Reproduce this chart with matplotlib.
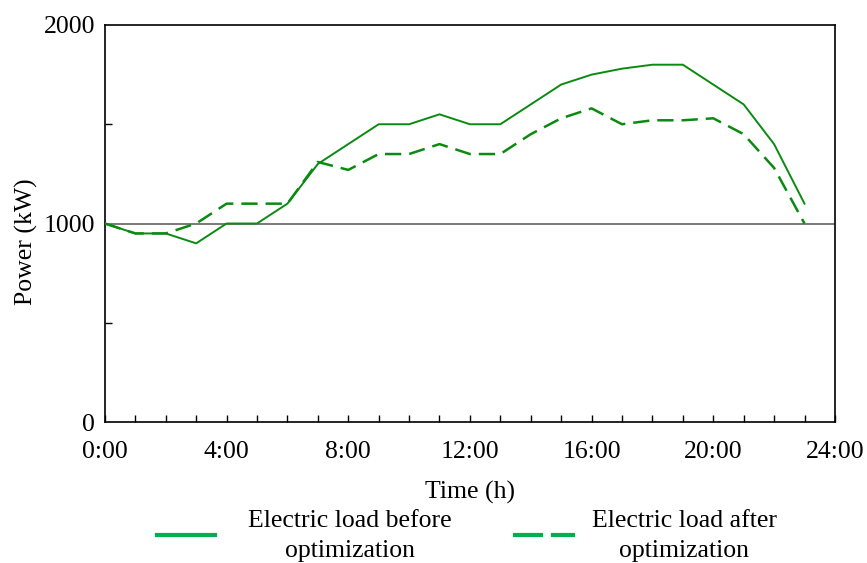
import matplotlib
matplotlib.use("Agg")
import matplotlib.pyplot as plt
from matplotlib.lines import Line2D
from matplotlib.ticker import MultipleLocator

hours = list(range(24))
load_before = [1000, 950, 950, 900, 1000, 1000, 1100, 1300, 1400, 1500, 1500, 1550,
               1500, 1500, 1600, 1700, 1750, 1780, 1800, 1800, 1700, 1600, 1400, 1100]
load_after = [1000, 950, 950, 1000, 1100, 1100, 1100, 1310, 1270, 1350, 1350, 1400,
              1350, 1350, 1450, 1530, 1580, 1500, 1520, 1520, 1530, 1450, 1280, 1000]
xtick_pos = [0, 4, 8, 12, 16, 20, 24]
xtick_labels = ["0:00", "4:00", "8:00", "12:00", "16:00", "20:00", "24:00"]
ytick_pos = [0, 1000, 2000]
labels = ["Electric load before\noptimization", "Electric load after\noptimization"]

plt.rcParams['font.family'] = ['Liberation Serif', 'DejaVu Serif']
fig = plt.figure(figsize=(8.67, 5.63), dpi=100)
ax = fig.add_axes([0.121, 0.2504, 0.842, 0.7052])

fs = 18.5
line_color = '#0b8a12'
ax.axhline(1000, color='#555555', lw=1.1, zorder=1)
ax.plot(hours, load_before, color=line_color, lw=1.4, zorder=3)
ax.plot(hours, load_after, color=line_color, lw=1.8, dashes=(6.5, 3.2), zorder=3)

ax.set_xlim(0, 24)
ax.set_ylim(0, 2000)
ax.set_xticks(xtick_pos)
ax.set_xticklabels(xtick_labels)
ax.xaxis.set_minor_locator(MultipleLocator(1))
ax.set_yticks(ytick_pos)
ax.yaxis.set_minor_locator(MultipleLocator(500))
ax.tick_params(axis='both', which='both', direction='in', labelsize=fs, width=1)
ax.tick_params(axis='both', which='minor', length=5)
ax.tick_params(axis='x', which='major', length=5, pad=14)
ax.tick_params(axis='y', which='major', length=0, pad=7)
for s in ax.spines.values():
    s.set_linewidth(1.2)

ax.set_xlabel("Time (h)", fontsize=fs, labelpad=12.5)
ax.set_ylabel("Power (kW)", fontsize=fs)
ax.yaxis.set_label_coords(-0.092, 0.453)

legend_color = '#00b050'
h1 = Line2D([0], [0], color=legend_color, lw=3)
h2 = Line2D([0], [0], color=legend_color, lw=3, dashes=(7.2, 1.9))
leg1 = fig.legend([h1], [labels[0]], loc='center left', bbox_to_anchor=(0.1811, 0.048),
                  frameon=False, fontsize=fs, handlelength=2.26, handletextpad=1.28,
                  borderpad=0, borderaxespad=0)
leg2 = fig.legend([h2], [labels[1]], loc='center left', bbox_to_anchor=(0.5917, 0.048),
                  frameon=False, fontsize=fs, handlelength=2.41, handletextpad=0.66,
                  borderpad=0, borderaxespad=0)
for leg in (leg1, leg2):
    for t in leg.get_texts():
        t.set_multialignment('center')
        t.set_linespacing(1.46)

fig.savefig("out.png", dpi=100)
